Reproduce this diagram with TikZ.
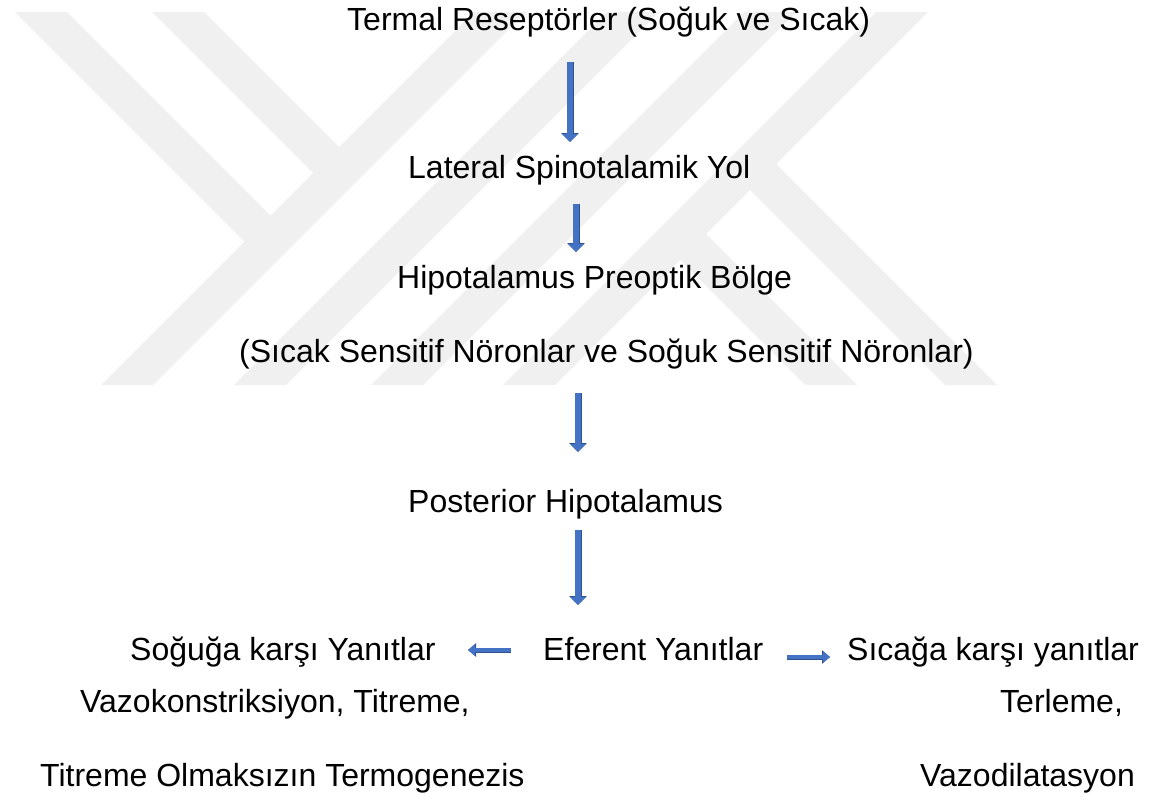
\documentclass[tikz,border=0pt]{standalone}
\usepackage{fontspec}
\setmainfont{Liberation Sans}
\usetikzlibrary{arrows.meta}
\definecolor{wm}{RGB}{240,240,240}
\definecolor{arrowblue}{RGB}{68,114,196}
\definecolor{arrowedge}{RGB}{47,82,143}
\begin{document}
\begin{tikzpicture}[x=1pt,y=-1pt,
  lbl/.style={inner sep=0pt, anchor=base west, font=\fontsize{32pt}{38pt}\selectfont},
  wmband/.style={fill=wm, draw=none},
  varrow/.style={draw=arrowblue, line width=6pt, -{Triangle[length=8pt,width=15pt]},
    preaction={draw=arrowedge, line width=7pt, -{Triangle[length=9pt,width=17pt]}}},
  harrow/.style={draw=arrowblue, line width=4pt, -{Triangle[length=7pt,width=11pt]},
    preaction={draw=arrowedge, line width=5pt, -{Triangle[length=8pt,width=13pt]}}}]
\useasboundingbox (0,0) rectangle (1152,798);
\fill[white] (0,0) rectangle (1152,798);
% watermark
\fill[wmband] (15,12) -- (67,12) -- (296.5,241.5) -- (244.5,241.5) -- cycle;
\fill[wmband] (152,12) -- (204,12) -- (352,160) -- (326,186) -- cycle;
\fill[wmband] (474,12) -- (526,12) -- (153,385) -- (101,385) -- cycle;
\fill[wmband] (607,12) -- (659,12) -- (286,385) -- (234,385) -- cycle;
\fill[wmband] (744,12) -- (796,12) -- (423,385) -- (371,385) -- cycle;
\fill[wmband] (876,12) -- (928,12) -- (555,385) -- (503,385) -- cycle;
\fill[wmband] (667,247) -- (693,221) -- (857,385) -- (805,385) -- cycle;
\fill[wmband] (737,177) -- (763,151) -- (997,385) -- (945,385) -- cycle;
% texts
\node[lbl] (t1) at (347,30) {Termal Reseptörler (Soğuk ve Sıcak)};
\node[lbl] (t2) at (408,178) {Lateral Spinotalamik Yol};
\node[lbl] (t3) at (397,288) {Hipotalamus Preoptik Bölge};
\node[lbl] (t4) at (239,362) {(Sıcak Sensitif Nöronlar ve Soğuk Sensitif Nöronlar)};
\node[lbl] (t5) at (408,512) {Posterior Hipotalamus};
\node[lbl] (t6) at (130,660) {Soğuğa karşı Yanıtlar};
\node[lbl] (t7) at (543,660) {Eferent Yanıtlar};
\node[lbl] (t8) at (847,660) {Sıcağa karşı yanıtlar};
\node[lbl] (t9) at (80,712) {Vazokonstriksiyon, Titreme,};
\node[lbl] (t10) at (1000,712) {Terleme,};
\node[lbl] (t11) at (40,786) {Titreme Olmaksızın Termogenezis};
\node[lbl] (t12) at (920,786) {Vazodilatasyon};
% arrow ends
\coordinate (a1s) at (570,62);  \coordinate (a1e) at (570,142);
\coordinate (a2s) at (576,204); \coordinate (a2e) at (576,252);
\coordinate (a3s) at (578,393); \coordinate (a3e) at (578,452);
\coordinate (a4s) at (578,530); \coordinate (a4e) at (578,605);
\coordinate (aLs) at (511,650); \coordinate (aLe) at (468,650);
\coordinate (aRs) at (787,657); \coordinate (aRe) at (830,657);
\draw[varrow] (a1s) -- (a1e);
\draw[varrow] (a2s) -- (a2e);
\draw[varrow] (a3s) -- (a3e);
\draw[varrow] (a4s) -- (a4e);
\draw[harrow] (aLs) -- (aLe);
\draw[harrow] (aRs) -- (aRe);
\end{tikzpicture}
\end{document}
